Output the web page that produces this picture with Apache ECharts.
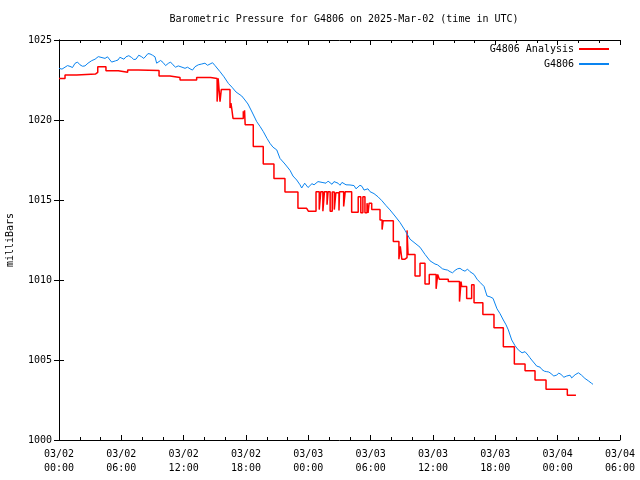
<!DOCTYPE html>
<html><head><meta charset="utf-8">
<script src="https://cdn.jsdelivr.net/npm/echarts@6/dist/echarts.min.js"></script>
<style>html,body{margin:0;padding:0;background:#fff}#c{width:640px;height:480px}</style>
</head><body><div id="c"></div>
<script>
const titleText = 'Barometric Pressure for G4806 on 2025-Mar-02 (time in UTC)';
const yAxisName = 'milliBars';
const seriesNames = ['G4806 Analysis', 'G4806'];
// hours since 2025-03-02 00:00 UTC
const analysisHours = [0.00,0.58,1.70,3.53,3.73,4.52,5.71,6.61,7.63,9.63,10.68,11.65,13.25,14.60,15.22,15.32,15.50,15.62,16.46,16.55,16.62,16.75,17.74,17.80,17.86,17.92,18.70,19.66,20.69,21.75,23.00,23.84,24.00,24.74,25.05,25.20,25.40,25.55,25.80,25.90,26.10,26.30,26.50,26.65,26.95,27.00,27.40,27.55,28.17,28.80,29.05,29.25,29.45,29.65,29.75,29.85,30.10,30.90,31.10,31.20,32.18,32.72,32.85,33.00,33.30,33.50,33.60,34.27,34.75,35.23,35.64,36.30,36.45,36.61,37.47,38.55,38.70,38.76,39.24,39.72,39.95,40.80,41.87,42.77,43.83,44.86,45.82,46.88,47.84,47.96,48.93,49.76];
const analysisValues = [1022.60,1022.81,1022.88,1022.98,1023.33,1023.08,1022.98,1023.13,1023.10,1022.75,1022.65,1022.50,1022.65,1022.60,1021.15,1022.60,1021.15,1021.90,1020.75,1021.05,1020.75,1020.10,1020.55,1020.25,1020.60,1019.70,1018.35,1017.25,1016.35,1015.50,1014.48,1014.40,1014.30,1015.52,1014.40,1015.52,1014.30,1015.52,1014.70,1015.52,1014.30,1015.50,1014.40,1015.45,1014.35,1015.52,1014.60,1015.52,1014.23,1015.21,1014.20,1015.21,1014.20,1014.80,1014.20,1014.80,1014.40,1013.75,1013.15,1013.70,1012.40,1011.30,1012.10,1011.30,1011.40,1013.10,1011.60,1010.25,1011.05,1009.75,1010.35,1009.45,1010.35,1010.05,1009.90,1008.65,1009.90,1009.60,1008.85,1009.70,1008.58,1007.85,1007.02,1005.83,1004.75,1004.33,1003.75,1003.17,1003.23,1003.17,1002.79,1002.79];
const stationHours = [
  0,0.29,0.58,0.82,1.06,1.30,1.54,1.78,2.02,2.26,2.50,2.65,2.79,2.97,3.15,3.31,3.47,3.62,3.78,3.96,
  4.14,4.28,4.43,4.67,4.91,5.07,5.23,5.45,5.68,5.86,6.04,6.25,6.45,6.72,7.00,7.20,7.41,7.68,7.96,8.16,
  8.37,8.56,8.76,9.00,9.24,9.40,9.56,9.78,10.01,10.26,10.52,10.74,10.97,11.22,11.48,11.66,11.84,11.98,12.13,12.37,
  12.61,12.85,13.09,13.41,13.74,13.90,14.05,14.30,14.54,14.78,15.02,15.50,15.88,16.30,16.65,17.04,17.59,17.90,18.19,18.58,
  19.03,19.35,19.67,20.02,20.31,20.60,20.96,21.27,21.75,22.24,22.52,22.88,23.20,23.36,23.52,23.65,23.78,23.97,24.16,24.35,
  24.55,24.74,24.93,25.12,25.32,25.51,25.70,25.90,26.09,26.28,26.47,26.66,26.86,27.05,27.24,27.43,27.63,27.82,28.01,28.20,
  28.40,28.59,28.78,28.97,29.17,29.36,29.55,29.74,29.94,30.32,30.71,31.09,31.48,31.86,32.34,32.82,33.31,33.79,34.27,34.75,
  35.23,35.71,36.19,36.43,36.67,36.91,37.16,37.40,37.64,37.88,38.12,38.36,38.60,38.84,39.08,39.32,39.56,39.75,39.95,40.24,
  40.53,40.91,41.20,41.49,41.78,42.16,42.45,42.77,43.03,43.25,43.58,43.89,44.21,44.39,44.57,44.71,44.86,45.00,45.15,45.32,
  45.50,45.66,45.82,45.98,46.14,46.31,46.49,46.72,46.95,47.15,47.36,47.63,47.91,48.11,48.32,48.60,48.87,49.03,49.19,49.35,
  49.51,49.68,49.86,50.00,50.15,50.30,50.44,50.62,50.80,50.95,51.11,51.25,51.40];
const stationValues = [
  1023.23,1023.18,1023.30,1023.40,1023.35,1023.28,1023.54,1023.62,1023.45,1023.36,1023.38,1023.48,1023.55,1023.45,1023.71,1023.82,1023.80,1023.70,1023.96,1024.02,
  1023.90,1023.80,1023.85,1023.95,1023.75,1023.62,1023.58,1023.70,1023.75,1023.92,1023.85,1023.80,1023.95,1024.02,1023.90,1023.78,1023.80,1024.05,1023.95,1023.85,
  1024.00,1024.15,1024.13,1024.05,1023.95,1023.55,1023.44,1023.72,1023.60,1023.40,1023.54,1023.62,1023.45,1023.30,1023.38,1023.48,1023.30,1023.18,1023.23,1023.30,
  1023.20,1023.12,1023.33,1023.45,1023.50,1023.62,1023.55,1023.42,1023.50,1023.58,1023.40,1023.02,1022.70,1022.29,1022.05,1021.75,1021.50,1021.25,1021.00,1020.50,
  1019.90,1019.60,1019.27,1018.85,1018.54,1018.30,1018.13,1017.60,1017.25,1016.85,1016.50,1016.25,1015.95,1015.75,1015.83,1016.05,1015.95,1015.78,1015.85,1016.02,
  1015.95,1015.85,1016.15,1016.20,1016.10,1015.98,1016.05,1016.18,1016.10,1015.98,1016.15,1016.22,1016.05,1015.92,1016.10,1016.05,1015.95,1015.85,1015.94,1016.00,
  1015.90,1015.70,1015.75,1015.92,1015.85,1015.62,1015.65,1015.70,1015.52,1015.40,1015.20,1014.95,1014.65,1014.38,1014.00,1013.60,1013.10,1012.55,1012.30,1012.05,
  1011.60,1011.20,1011.00,1010.95,1010.83,1010.70,1010.65,1010.62,1010.52,1010.45,1010.60,1010.70,1010.73,1010.62,1010.55,1010.68,1010.52,1010.40,1010.35,1010.05,
  1009.85,1009.60,1009.00,1008.95,1008.85,1008.20,1007.90,1007.50,1007.20,1006.88,1006.25,1005.90,1005.63,1005.55,1005.45,1005.35,1005.52,1005.58,1005.30,1005.15,
  1005.00,1005.05,1004.75,1004.62,1004.58,1004.55,1004.40,1004.30,1004.27,1004.25,1004.15,1004.00,1004.06,1004.18,1004.10,1003.92,1004.00,1004.12,1004.05,1003.88,
  1003.96,1004.08,1004.15,1004.20,1004.17,1004.05,1003.95,1003.85,1003.75,1003.70,1003.60,1003.55,1003.48];
const xMin = 0, xMax = 54, xStep = 6;
const yMin = 1000, yMax = 1025, yStep = 5;

const FONT = 'DejaVu Sans Mono';
function pad(n){ return (n < 10 ? '0' : '') + n; }
function xLabel(h){
  const day = 2 + Math.floor(h / 24);
  const hh = Math.round(h % 24);
  return '03/' + pad(day) + '\n' + pad(hh) + ':00';
}
const chart = echarts.init(document.getElementById('c'), null, {renderer: 'canvas'});
const axisLine = {show: true, lineStyle: {color: '#000', width: 1}};
const tick = {show: true, inside: true, length: 5, lineStyle: {color: '#000'}};
const minor = {show: true, splitNumber: 3, length: 3, lineStyle: {color: '#000'}};
const legendText = {fontFamily: FONT, fontSize: 10, color: '#000'};
const opt = {
  animation: false,
  backgroundColor: '#fff',
  title: {text: titleText, left: 339, top: 9, textAlign: 'center',
    textStyle: {fontFamily: FONT, fontSize: 10, fontWeight: 'normal', color: '#000'}},
  grid: {left: 59, right: 20, top: 40, bottom: 40, containLabel: false, outerBoundsMode: 'none'},
  legend: [
    {data: [seriesNames[0]], orient: 'vertical', right: 31, top: 44, padding: 0, align: 'right', icon: 'rect',
     itemWidth: 30, itemHeight: 2, textStyle: legendText},
    {data: [seriesNames[1]], orient: 'vertical', right: 31, top: 59, padding: 0, align: 'right', icon: 'rect',
     itemWidth: 30, itemHeight: 2, textStyle: legendText}
  ],
  xAxis: [
    {type: 'value', min: xMin, max: xMax, interval: xStep, position: 'bottom',
     axisLine, axisTick: tick, minorTick: minor, splitLine: {show: false}, minorSplitLine: {show: false},
     axisLabel: {formatter: xLabel, fontFamily: FONT, fontSize: 10, color: '#000', margin: 7, lineHeight: 14}},
    {type: 'value', min: xMin, max: xMax, interval: xStep, position: 'top',
     axisLine, axisTick: tick, minorTick: minor, splitLine: {show: false}, minorSplitLine: {show: false},
     axisLabel: {show: false}}
  ],
  yAxis: [
    {type: 'value', min: yMin, max: yMax, interval: yStep, position: 'left',
     name: yAxisName, nameLocation: 'middle', nameGap: 44,
     nameTextStyle: {fontFamily: FONT, fontSize: 10, color: '#000'},
     axisLine, axisTick: tick, splitLine: {show: false},
     axisLabel: {formatter: v => String(v), fontFamily: FONT, fontSize: 10, color: '#000', margin: 7}},
    {type: 'value', min: yMin, max: yMax, interval: yStep, position: 'right',
     axisLine, axisTick: tick, splitLine: {show: false}, axisLabel: {show: false}}
  ],
  series: [
    {name: seriesNames[0], type: 'line', step: 'end', symbol: 'none', xAxisIndex: 0, yAxisIndex: 0,
     lineStyle: {color: '#ff0000', width: 1.5}, itemStyle: {color: '#ff0000'},
     data: analysisHours.map((h, i) => [h, analysisValues[i]])},
    {name: seriesNames[1], type: 'line', symbol: 'none', xAxisIndex: 0, yAxisIndex: 0,
     lineStyle: {color: '#0a84f0', width: 1}, itemStyle: {color: '#0a84f0'},
     data: stationHours.map((h, i) => [h, stationValues[i]])}
  ]
};
chart.setOption(opt);
</script></body></html>
